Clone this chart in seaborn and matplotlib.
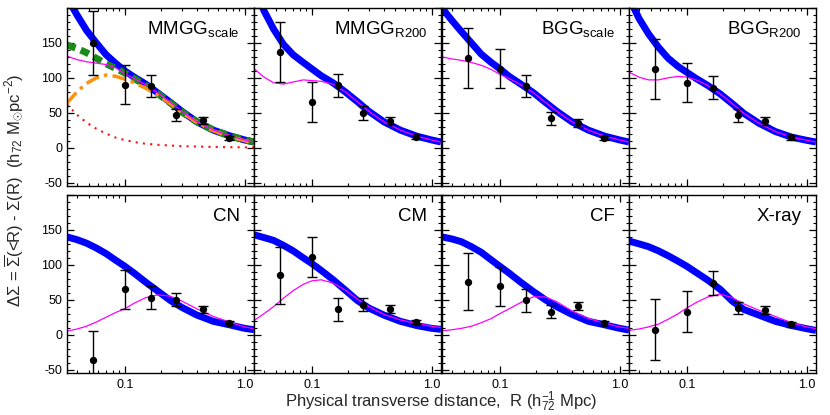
import numpy as np
import pandas as pd
import matplotlib
matplotlib.use("Agg")
import matplotlib.pyplot as plt
from matplotlib.ticker import FixedLocator, FixedFormatter, MultipleLocator, LogLocator, NullFormatter
import seaborn as sns

# ---------------- data ----------------
panel_names = [r"MMGG$_{\mathrm{scale}}$", r"MMGG$_{\mathrm{R200}}$", r"BGG$_{\mathrm{scale}}$", r"BGG$_{\mathrm{R200}}$",
               "CN", "CM", "CF", "X-ray"]

r_data = [0.054, 0.1, 0.165, 0.27, 0.45, 0.74]
ds_mmgg_scale = [150, 90, 88, 47, 39, 14]
er_mmgg_scale = [46, 28, 16, 9, 5, 3]
ds_mmgg_r200 = [137, 65, 89, 50, 38, 15]
er_mmgg_r200 = [43, 29, 16, 10, 5.5, 3]
ds_bgg_scale = [129, 113, 88, 42, 35, 14]
er_bgg_scale = [43, 28, 16, 9, 6, 3]
ds_bgg_r200 = [113, 93, 86, 46, 38, 14.5]
er_bgg_r200 = [43, 28, 16, 9.5, 6, 3]
ds_cn = [-37, 65, 53, 50, 36, 17]
er_cn = [42, 28, 16, 9, 5.5, 3]
ds_cm = [85, 111, 36, 43, 37, 18]
er_cm = [41, 29, 16, 9, 5.5, 3]
ds_cf = [76, 69, 49, 33, 41, 17]
er_cf = [41, 28, 16, 9, 6, 3]
ds_xray = [7, 33, 74, 38, 35, 14.5]
er_xray = [44, 29, 17, 9, 6, 3]

# model curves
r_model = [0.033, 0.04, 0.048, 0.058, 0.07, 0.085, 0.1, 0.12, 0.15, 0.19, 0.24, 0.3, 0.4, 0.55, 0.75, 1.0, 1.2]

blue_mmgg_scale = [215, 190, 168, 150, 133, 120, 110, 101, 91, 78, 65, 52, 37, 25, 17, 11, 8]
green_mmgg_scale = [147, 142, 136, 128, 120, 113, 107, 99, 89, 77, 64, 51, 37, 25, 17, 11, 8]
orange_mmgg_scale = [64, 80, 92, 100, 104, 102, 98, 93, 85, 75, 63, 50, 36, 24, 16, 10, 7]
red_mmgg_scale = [62, 47, 36, 27, 20, 14, 11, 8, 5.5, 4, 3, 2, 1.5, 1, 0.6, 0.4, 0.3]
mag_mmgg_scale = [131, 126, 123, 121, 119, 114, 106, 99, 90, 78, 65, 52, 37, 25, 17, 11, 8]

blue_mmgg_r200 = [230, 196, 170, 148, 133, 122, 113, 103, 93, 80, 66, 52, 37, 25, 16.5, 11, 8]
mag_mmgg_r200 = [113, 101, 93, 91, 94, 97, 96, 95, 91, 80, 66, 52, 37, 25, 16.5, 11, 8]

blue_bgg_scale = [200, 182, 166, 150, 134, 122, 113, 102, 91, 79, 65, 52, 37, 25, 16.5, 11, 8]
mag_bgg_scale = [130, 127, 125, 122, 118, 112, 105, 99, 90, 79, 65, 52, 37, 25, 16.5, 11, 8]

blue_bgg_r200 = [215, 185, 163, 144, 128, 116, 108, 99, 89, 77, 63, 49, 35, 23, 15, 10.5, 8]
mag_bgg_r200 = [108, 101, 97, 97, 100, 102, 101, 97, 89, 77, 63, 49, 35, 23, 15, 10.5, 8]

blue_cn = [140, 136, 131, 124, 116, 106, 98, 88, 75, 62, 49, 39, 28, 19, 14, 9, 7]
mag_cn = [5, 8, 12, 18, 25, 32, 37, 45, 53, 57, 55, 48, 37, 26, 18, 11, 8.5]

blue_cm = [143, 139, 135, 128, 120, 110, 102, 92, 79, 64, 49, 38, 28, 19, 13, 9, 7.5]
mag_cm = [20, 30, 40, 52, 63, 72, 77, 78.5, 74, 64, 51, 40, 29, 21, 16, 12, 10]

blue_cf = [140, 137, 133, 126, 118, 107, 98, 88, 75, 62, 50, 40, 29, 19, 14, 9, 6.5]
mag_cf = [5.5, 7, 9, 12, 17, 23, 30, 37, 46, 54, 54, 47, 34, 23, 16.5, 11, 9]

blue_xray = [134, 130, 126, 120, 113, 105, 98, 89, 78, 65, 48, 36, 28, 19, 13, 8.5, 6]
mag_xray = [6, 8, 11, 15, 22, 30, 38, 46, 54, 58, 53, 44, 35, 26, 17, 11, 8.5]

panel_points = [(ds_mmgg_scale, er_mmgg_scale), (ds_mmgg_r200, er_mmgg_r200),
                (ds_bgg_scale, er_bgg_scale), (ds_bgg_r200, er_bgg_r200),
                (ds_cn, er_cn), (ds_cm, er_cm), (ds_cf, er_cf), (ds_xray, er_xray)]
panel_blue = [blue_mmgg_scale, blue_mmgg_r200, blue_bgg_scale, blue_bgg_r200,
              blue_cn, blue_cm, blue_cf, blue_xray]
panel_mag = [mag_mmgg_scale, mag_mmgg_r200, mag_bgg_scale, mag_bgg_r200,
             mag_cn, mag_cm, mag_cf, mag_xray]

# ---------------- style ----------------
sns.set_theme(style="ticks")
plt.rcParams["font.family"] = ["Liberation Sans", "DejaVu Sans"]
plt.rcParams["mathtext.fontset"] = "custom"
plt.rcParams["mathtext.rm"] = "Liberation Sans"
plt.rcParams["mathtext.it"] = "Liberation Sans:italic"
plt.rcParams["mathtext.bf"] = "Liberation Sans:bold"
plt.rcParams["mathtext.sf"] = "Liberation Sans"
plt.rcParams["axes.linewidth"] = 1.0
plt.rcParams["lines.solid_joinstyle"] = "round"
plt.rcParams["lines.dash_joinstyle"] = "round"

W, H = 830, 415
fig = plt.figure(figsize=(W / 100, H / 100), dpi=100)

left_px = [67, 254, 442, 629]
pw = 187
rows = [(8, 186), (195, 373)]

for i in range(8):
    row, col = divmod(i, 4)
    top, bot = rows[row]
    x0 = left_px[col]
    ax = fig.add_axes([x0 / W, 1 - bot / H, pw / W, (bot - top) / H])
    ax.set_xscale("log")
    ax.set_xlim(0.033, 1.2)
    ax.set_ylim(-55, 200)

    sns.lineplot(x=r_model, y=panel_blue[i], ax=ax, color="#0000ff", lw=5.0,
                 sort=False, estimator=None, solid_capstyle="butt")
    if i == 0:
        sns.lineplot(x=r_model, y=green_mmgg_scale, ax=ax, color="#1a8a1a", lw=5.0,
                     sort=False, estimator=None, linestyle=(0, (1.3, 0.8)))
        sns.lineplot(x=r_model, y=orange_mmgg_scale, ax=ax, color="#ff9010", lw=2.5,
                     sort=False, estimator=None, linestyle=(0, (4, 1.5, 1, 1.5)))
        sns.lineplot(x=r_model, y=red_mmgg_scale, ax=ax, color="#ff1010", lw=1.5,
                     sort=False, estimator=None, linestyle=(0, (1, 2.5)))
    sns.lineplot(x=r_model, y=panel_mag[i], ax=ax, color="#ff00ff", lw=0.9,
                 sort=False, estimator=None)

    ds, er = panel_points[i]
    ax.errorbar(r_data, ds, yerr=er, fmt="none", ecolor="black", elinewidth=1.0,
                capsize=3.5, capthick=1.0, zorder=5)
    sns.scatterplot(x=r_data, y=ds, ax=ax, color="black", s=28, edgecolor="black",
                    linewidth=0, zorder=6)

    ax.text(0.925, 0.88, panel_names[i], transform=ax.transAxes, ha="right", va="center",
            fontsize=13.5, color="black")

    ax.xaxis.set_major_locator(FixedLocator([0.1, 1.0]))
    ax.xaxis.set_major_formatter(FixedFormatter(["0.1", "1.0"]))
    ax.xaxis.set_minor_locator(LogLocator(base=10, subs=np.arange(2, 10)))
    ax.xaxis.set_minor_formatter(NullFormatter())
    ax.yaxis.set_major_locator(FixedLocator([-50, 0, 50, 100, 150, 200]))
    ax.yaxis.set_minor_locator(MultipleLocator(10))
    ax.tick_params(which="both", direction="in", top=True, right=True, colors="black",
                   labelsize=9)
    ax.tick_params(axis="x", which="major", pad=4)
    ax.tick_params(which="major", length=5, width=0.9)
    ax.tick_params(which="minor", length=2.5, width=0.8)
    ax.set_xlabel("")
    ax.set_ylabel("")
    if col == 0:
        ax.set_yticklabels(["-50", "0", "50", "100", "150", ""])
    else:
        ax.set_yticklabels([])
    if row == 0:
        ax.set_xticklabels([])
    for s in ax.spines.values():
        s.set_color("black")
        s.set_linewidth(1.0)

fig.text(441.5 / W, 1 - 406.5 / H, r"Physical transverse distance,  R (h$^{-1}_{72}$ Mpc)",
         ha="center", va="baseline", fontsize=12)
fig.text(14 / W, 1 - 190 / H,
         r"$\Delta\Sigma$ = $\overline{\Sigma}$(<R) - $\Sigma$(R)  (h$_{72}$ M$_{\odot}$pc$^{-2}$)",
         ha="center", va="center", rotation=90, fontsize=12)

fig.savefig("out.png", dpi=100, facecolor="white")
